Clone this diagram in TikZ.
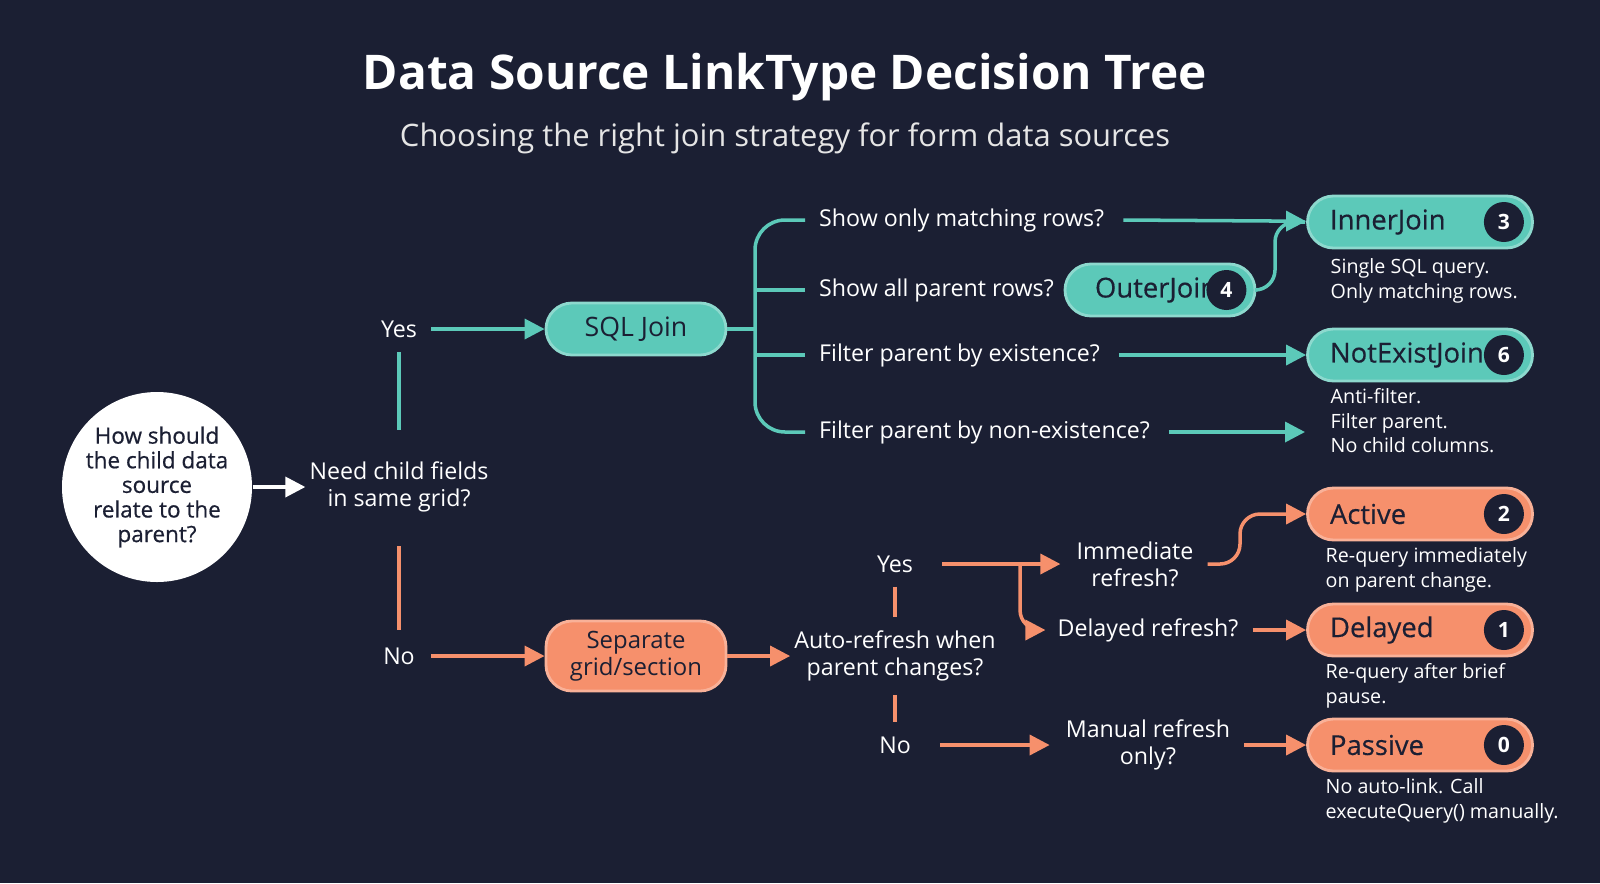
\documentclass[tikz,border=0pt]{standalone}
\usepackage{fontspec}
\setmainfont{Open Sans}
\usetikzlibrary{positioning,arrows.meta}
\definecolor{bg}{HTML}{1B1F33}
\definecolor{tealc}{HTML}{5CC9B9}
\definecolor{orangec}{HTML}{F6906C}
\definecolor{ink}{HTML}{1B1F33}
\tikzset{
  txt/.style={text=white,font=\fontsize{6.6}{7.6}\selectfont,align=center,inner sep=1pt},
  note/.style={text=white,font=\fontsize{5.6}{7}\selectfont,align=left,anchor=north west,inner sep=0pt},
  pill/.style={rounded corners=2.6mm,minimum height=5.2mm,text=ink,font=\fontsize{7.6}{8}\selectfont,inner sep=1pt},
  tpill/.style={pill,fill=tealc,draw=tealc!70!white,line width=0.8pt},
  opill/.style={pill,fill=orangec,draw=orangec!70!white,line width=0.8pt},
  result/.style={minimum width=22.5mm,text width=18mm,align=left,font=\fontsize{7.8}{8}\selectfont\addfontfeatures{FakeBold=0.4}},
  badge/.style={circle,fill=ink,text=white,minimum size=4mm,inner sep=0pt,font=\bfseries\fontsize{6}{6}\selectfont},
  tl/.style={tealc,line width=1pt},
  ol/.style={orangec,line width=1pt},
  ta/.style={tl,-{Triangle[length=2mm,width=2mm]}},
  oa/.style={ol,-{Triangle[length=2mm,width=2mm]}},
}
\begin{document}
\begin{tikzpicture}[x=1cm,y=1cm]
\fill[bg] (0,0) rectangle (16,-8.83);
\useasboundingbox (0,0) rectangle (16,-8.83);

% heading
\node[text=white,font=\bfseries\fontsize{13.6}{15}\selectfont] (title) at (7.85,-0.77) {Data Source LinkType Decision Tree};
\node[text=white!90!black,font=\fontsize{8.8}{10}\selectfont] (sub) at (7.85,-1.38) {Choosing the right join strategy for form data sources};

% root question
\node[circle,fill=white,minimum size=19mm,text=ink,align=center,font=\fontsize{6.4}{7}\selectfont\addfontfeatures{FakeBold=0.6},inner sep=0pt] (root) at (1.57,-4.87) {How should\\the child data\\source\\relate to the\\parent?};
\node[txt] (grid) at (3.99,-4.87) {Need child fields\\in same grid?};
\draw[white,line width=1pt,-{Triangle[length=2mm,width=2mm]}] (root) -- (grid);
\node[txt] (yes1) at (3.99,-3.29) {Yes};
\node[txt] (no1) at (3.99,-6.56) {No};
\draw[tl] (grid.north) ++(0,0.28) coordinate (g1) -- (yes1.south|-0,-3.52);
\draw[ol] (grid.south) ++(0,-0.3) coordinate (g2) -- (no1.north|-0,-6.3);

% sql branch
\node[tpill,minimum width=18mm] (sql) at (6.36,-3.29) {SQL Join};
\draw[ta] (yes1) ++(0.32,0) -- (sql);
\node[txt,anchor=west] (q1) at (8.15,-2.2) {Show only matching rows?};
\node[txt,anchor=west] (q2) at (8.15,-2.9) {Show all parent rows?};
\node[txt,anchor=west] (q3) at (8.15,-3.55) {Filter parent by existence?};
\node[txt,anchor=west] (q4) at (8.15,-4.32) {Filter parent by non-existence?};
\draw[tl,rounded corners=3mm] (q1.west) ++(-0.1,0) -| (7.55,-4.32) -- ([xshift=-0.1cm]q4.west);
\draw[tl] (sql.east) -- (7.55,-3.29);
\draw[tl] (7.55,-2.9) -- ([xshift=-0.1cm]q2.west);
\draw[tl] (7.55,-3.55) -- ([xshift=-0.1cm]q3.west);

\node[tpill,result] (inner) at (14.2,-2.22) {InnerJoin};
\node[badge] (inner-n) at ([xshift=-3mm]inner.east) {3};
\node[tpill,minimum width=19mm,text width=13mm,align=left,font=\fontsize{7.8}{8}\selectfont\addfontfeatures{FakeBold=0.4}] (outer) at (11.6,-2.9) {OuterJoin};
\node[badge] (outer-n) at ([xshift=-3mm]outer.east) {4};
\node[tpill,result] (notex) at (14.2,-3.55) {NotExistJoin};
\node[badge] (notex-n) at ([xshift=-3mm]notex.east) {6};
\coordinate (nonex) at (13.05,-4.32);

\draw[ta] ([xshift=0.15cm]q1.east) -- (inner);
\draw[tl,rounded corners=2mm] (outer.east) -- (12.75,-2.9) |- (13.05,-2.22);
\draw[ta] ([xshift=0.15cm]q3.east) -- (notex);
\draw[ta] ([xshift=0.15cm]q4.east) -- (nonex);

\node[note] (inner-d) at (13.3,-2.58) {Single SQL query.\\Only matching rows.};
\node[note] (notex-d) at (13.3,-3.88) {Anti-filter.\\Filter parent.\\No child columns.};

% separate branch
\node[opill,minimum width=18mm,minimum height=7mm,align=center,font=\fontsize{6.8}{7.6}\selectfont] (sep) at (6.36,-6.56) {Separate\\grid/section};
\draw[oa] (no1) ++(0.32,0) -- (sep);
\node[txt] (auto) at (8.95,-6.56) {Auto-refresh when\\parent changes?};
\draw[oa] (sep) -- (auto);
\node[txt] (yes2) at (8.95,-5.64) {Yes};
\node[txt] (no2) at (8.95,-7.45) {No};
\draw[ol] ([yshift=-0.1cm]yes2.south) -- ([yshift=0.1cm]auto.north);
\draw[ol] ([yshift=-0.1cm]auto.south) -- ([yshift=0.1cm]no2.north);

\node[txt] (imm) at (11.35,-5.64) {Immediate\\refresh?};
\node[txt] (del) at (11.48,-6.3) {Delayed refresh?};
\node[txt] (man) at (11.48,-7.45) {Manual refresh\\only?};
\draw[oa] ([xshift=0.25cm]yes2.east) -- ([xshift=-0.12cm]imm.west);
\draw[oa,rounded corners=2mm] (10.2,-5.64) |- ([xshift=-0.08cm]del.west);
\draw[oa] ([xshift=0.25cm]no2.east) -- ([xshift=-0.12cm]man.west);

\node[opill,result] (active) at (14.2,-5.14) {Active};
\node[badge] (active-n) at ([xshift=-3mm]active.east) {2};
\node[opill,result] (delayed) at (14.2,-6.3) {Delayed};
\node[badge] (delayed-n) at ([xshift=-3mm]delayed.east) {1};
\node[opill,result] (passive) at (14.2,-7.45) {Passive};
\node[badge] (passive-n) at ([xshift=-3mm]passive.east) {0};

\draw[oa,rounded corners=2mm] ([xshift=0.1cm]imm.east) -- (12.4,-5.64) |- (active.west);
\draw[oa] ([xshift=0.1cm]del.east) -- (delayed);
\draw[oa] ([xshift=0.1cm]man.east) -- (passive);

\node[note] (active-d) at (13.25,-5.47) {Re-query immediately\\on parent change.};
\node[note] (delayed-d) at (13.25,-6.63) {Re-query after brief\\pause.};
\node[note] (passive-d) at (13.25,-7.78) {No auto-link. Call\\executeQuery() manually.};
\end{tikzpicture}
\end{document}
